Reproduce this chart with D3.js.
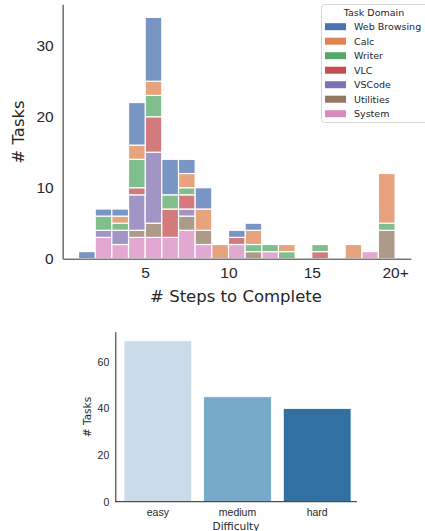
<!DOCTYPE html>
<html>
<head>
<meta charset="utf-8">
<script src="https://cdn.jsdelivr.net/npm/d3@7"></script>
<style>
  html, body { margin: 0; padding: 0; background: #fff; }
  svg { display: block; font-family: 'DejaVu Sans', sans-serif; }
</style>
</head>
<body>
<svg id="chart" width="425" height="531"></svg>
<script>
// Histogram bins (start of each 1-step bin); the last bin is "20+"
const steps = [1, 2, 3, 4, 5, 6, 7, 8, 9, 10, 11, 12, 13, 14, 15, 16, 17, 18, 19];
const domains = ['Web Browsing', 'Calc', 'Writer', 'VLC', 'VSCode', 'Utilities', 'System'];

// counts per bin, one array per task domain
const webBrowsing = [1, 1, 1, 6, 9, 5, 2, 3, 0, 1, 1, 0, 0, 0, 0, 0, 0, 0, 0];
const calc        = [0, 0, 1, 2, 2, 0, 2, 3, 2, 0, 2, 0, 1, 0, 0, 0, 2, 0, 7];
const writer      = [0, 2, 1, 4, 3, 2, 1, 0, 0, 0, 1, 1, 1, 0, 1, 0, 0, 0, 1];
const vlc         = [0, 0, 0, 1, 5, 4, 2, 0, 0, 1, 0, 0, 0, 0, 1, 0, 0, 0, 0];
const vscode      = [0, 1, 2, 5, 10, 0, 1, 0, 0, 0, 0, 0, 0, 0, 0, 0, 0, 0, 0];
const utilities   = [0, 0, 0, 1, 2, 0, 2, 2, 0, 0, 1, 0, 0, 0, 0, 0, 0, 0, 4];
const system      = [0, 3, 2, 3, 3, 3, 4, 2, 0, 2, 0, 1, 0, 0, 0, 0, 0, 1, 0];

const xTicks = [5, 10, 15, 20];
const xTickLabels = ['5', '10', '15', '20+'];
const yTicks = [0, 10, 20, 30];

// difficulty bar chart
const difficulties = ['easy', 'medium', 'hard'];
const difficultyCounts = [69, 45, 40];
const difficultyTicks = [0, 20, 40, 60];

const domainColors = ['#4c72b0', '#dd8452', '#55a868', '#c44e52', '#8172b3', '#937860', '#da8bc3'];
const difficultyColors = ['#cbdbea', '#78a9c8', '#3370a2'];
const textColor = '#262626';

const svg = d3.select('#chart');

// ---------- top chart: stacked histogram ----------
const series = [webBrowsing, calc, writer, vlc, vscode, utilities, system];
const table = steps.map((s, i) => {
  const row = { step: s };
  domains.forEach((d, j) => (row[d] = series[j][i]));
  return row;
});

const color = d3.scaleOrdinal(domains, domainColors);
const x = d3.scaleLinear([0.05, 20.95], [62.7, 410.9]);
const y = d3.scaleLinear([0, 35.85], [258.7, 4.2]);

// seaborn stacks the last hue at the bottom
const stacked = d3.stack().keys(domains.slice().reverse())(table);

const histChart = svg.append('g');
histChart.append('g')
  .selectAll('g')
  .data(stacked)
  .join('g')
  .attr('fill', (d) => color(d.key))
  .attr('fill-opacity', 0.75)
  .selectAll('rect')
  .data((d) => d.filter((v) => v[1] > v[0]))
  .join('rect')
  .attr('x', (d) => x(d.data.step))
  .attr('width', (d) => x(d.data.step + 1) - x(d.data.step))
  .attr('y', (d) => y(d[1]))
  .attr('height', (d) => y(d[0]) - y(d[1]))
  .attr('stroke', '#fff')
  .attr('stroke-width', 1.2);

// axes
histChart.append('g')
  .attr('transform', `translate(0,${y(0)})`)
  .call(d3.axisBottom(x).tickValues(xTicks).tickFormat((d, i) => xTickLabels[i]).tickSize(0).tickPadding(8))
  .call((g) => g.select('.domain').attr('stroke', '#777').attr('stroke-width', 1.6))
  .call((g) => g.selectAll('text').attr('fill', textColor).style('font-size', '15.5px'));

histChart.append('g')
  .attr('transform', `translate(${x.range()[0]},0)`)
  .call(d3.axisLeft(y).tickValues(yTicks).tickSize(0).tickPadding(9))
  .call((g) => g.select('.domain').attr('stroke', '#777').attr('stroke-width', 1.6))
  .call((g) => g.selectAll('text').attr('fill', textColor).style('font-size', '15.5px'));

histChart.append('text')
  .attr('x', 236)
  .attr('y', 302)
  .attr('text-anchor', 'middle')
  .attr('fill', textColor)
  .style('font-size', '16.5px')
  .text('# Steps to Complete');

histChart.append('text')
  .attr('transform', 'translate(24,132) rotate(-90)')
  .attr('text-anchor', 'middle')
  .attr('fill', textColor)
  .style('font-size', '16.5px')
  .text('# Tasks');

// legend
const legend = histChart.append('g');
legend.append('rect')
  .attr('x', 321.5)
  .attr('y', 4.5)
  .attr('width', 108)
  .attr('height', 118)
  .attr('rx', 3)
  .attr('fill', '#fff')
  .attr('fill-opacity', 0.8)
  .attr('stroke', '#d6d6d6');
legend.append('text')
  .attr('x', 374)
  .attr('y', 16)
  .attr('text-anchor', 'middle')
  .attr('fill', textColor)
  .style('font-size', '9.5px')
  .text('Task Domain');
const entries = legend.selectAll('g.entry')
  .data(domains)
  .join('g')
  .attr('class', 'entry')
  .attr('transform', (d, i) => `translate(325,${26.7 + i * 14.5})`);
entries.append('rect')
  .attr('x', 0)
  .attr('y', -3.5)
  .attr('width', 21)
  .attr('height', 7)
  .attr('fill', (d) => color(d));
entries.append('text')
  .attr('x', 29)
  .attr('y', 3.5)
  .attr('fill', textColor)
  .style('font-size', '9.5px')
  .text((d) => d);

// ---------- bottom chart: tasks by difficulty ----------
const bx = d3.scaleBand(difficulties, [118, 357]).paddingInner(0.15).paddingOuter(0.075);
const by = d3.scaleLinear([0, 72.9], [501.7, 331.7]);

const barChart = svg.append('g');
barChart.append('g')
  .selectAll('rect')
  .data(difficulties)
  .join('rect')
  .attr('x', (d) => bx(d))
  .attr('width', bx.bandwidth())
  .attr('y', (d, i) => by(difficultyCounts[i]))
  .attr('height', (d, i) => by(0) - by(difficultyCounts[i]))
  .attr('fill', (d, i) => difficultyColors[i])
  .attr('stroke', '#fff')
  .attr('stroke-width', 0.8);

barChart.append('g')
  .attr('transform', `translate(0,${by(0)})`)
  .call(d3.axisBottom(bx).tickSize(0).tickPadding(7))
  .call((g) => g.select('.domain').attr('d', `M115.3,0H357`).attr('stroke', textColor).attr('stroke-width', 1))
  .call((g) => g.selectAll('text').attr('fill', textColor).style('font-size', '10.5px'));

barChart.append('g')
  .attr('transform', 'translate(115.3,0)')
  .call(d3.axisLeft(by).tickValues(difficultyTicks).tickSize(0).tickPadding(6))
  .call((g) => g.select('.domain').attr('stroke', textColor).attr('stroke-width', 1))
  .call((g) => g.selectAll('text').attr('fill', textColor).style('font-size', '10.5px'));

barChart.append('text')
  .attr('x', 236)
  .attr('y', 530)
  .attr('text-anchor', 'middle')
  .attr('fill', textColor)
  .style('font-size', '10.5px')
  .text('Difficulty');

barChart.append('text')
  .attr('transform', 'translate(90.5,417) rotate(-90)')
  .attr('text-anchor', 'middle')
  .attr('fill', textColor)
  .style('font-size', '10.5px')
  .text('# Tasks');
</script>
</body>
</html>
